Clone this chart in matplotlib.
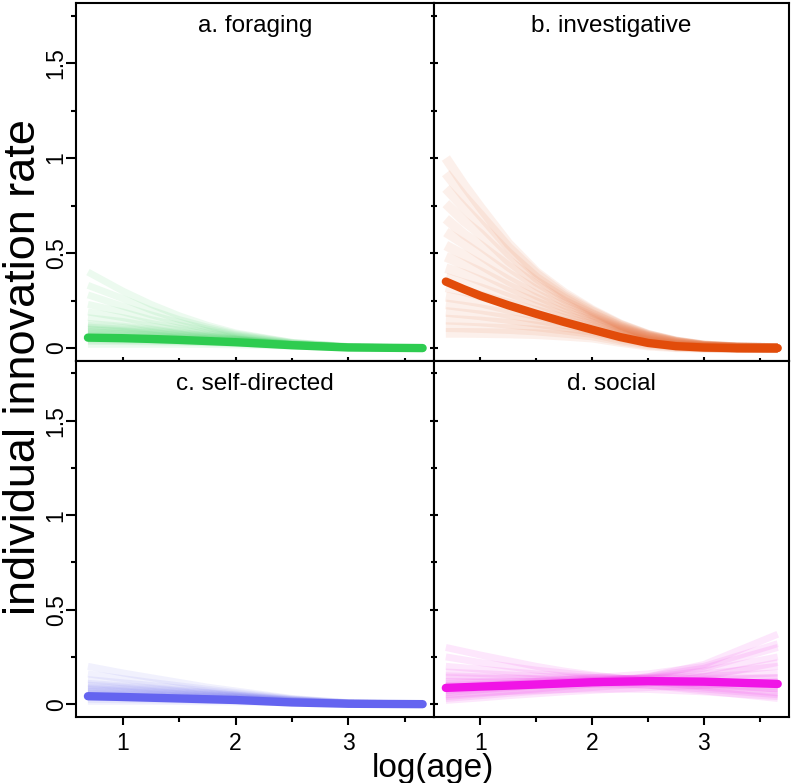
import matplotlib
matplotlib.use("Agg")
import matplotlib.pyplot as plt
from matplotlib.ticker import MultipleLocator

plt.rcParams['font.family'] = ['Liberation Sans', 'DejaVu Sans']

edad_log = [0.69, 1.0, 1.25, 1.5, 1.75, 2.0, 2.5, 3.0, 3.66]
edad_log_fino = [0.69, 0.85, 1.0, 1.25, 1.5, 1.75, 2.0, 2.25, 2.5, 2.75, 3.0, 3.3, 3.66]

titulos = ["a. foraging", "b. investigative", "c. self-directed", "d. social"]
colores = ["#2ecc50", "#e24c0a", "#6464f0", "#f014e6"]

# posterior mean curves
media_foraging = [0.055, 0.052, 0.048, 0.043, 0.037, 0.031, 0.015, 0.003, 0.0]
media_investig = [0.35, 0.31, 0.275, 0.225, 0.18, 0.137, 0.097, 0.058, 0.027,
                  0.01, 0.003, 0.0, 0.0]
media_selfdir = [0.042, 0.038, 0.034, 0.030, 0.026, 0.022, 0.009, 0.002, 0.0]
media_social = [0.086, 0.093, 0.098, 0.104, 0.110, 0.116, 0.122, 0.119, 0.107]

# posterior sample curves
muestras_foraging = [
    [0.40, 0.30, 0.23, 0.17, 0.12, 0.08, 0.030, 0.008, 0.0],
    [0.33, 0.26, 0.20, 0.15, 0.11, 0.075, 0.030, 0.008, 0.0],
    [0.28, 0.22, 0.175, 0.135, 0.10, 0.07, 0.028, 0.007, 0.0],
    [0.23, 0.19, 0.15, 0.12, 0.09, 0.065, 0.026, 0.007, 0.0],
    [0.19, 0.16, 0.13, 0.105, 0.08, 0.06, 0.025, 0.006, 0.0],
    [0.16, 0.14, 0.115, 0.095, 0.073, 0.055, 0.023, 0.006, 0.0],
    [0.13, 0.115, 0.10, 0.083, 0.066, 0.05, 0.021, 0.005, 0.0],
    [0.12, 0.107, 0.094, 0.078, 0.063, 0.048, 0.020, 0.005, 0.0],
    [0.11, 0.10, 0.088, 0.074, 0.06, 0.046, 0.020, 0.005, 0.0],
    [0.10, 0.092, 0.082, 0.07, 0.057, 0.044, 0.019, 0.005, 0.0],
    [0.095, 0.087, 0.077, 0.066, 0.054, 0.042, 0.019, 0.005, 0.0],
    [0.085, 0.079, 0.071, 0.061, 0.05, 0.04, 0.018, 0.004, 0.0],
    [0.08, 0.074, 0.067, 0.058, 0.048, 0.038, 0.017, 0.004, 0.0],
    [0.072, 0.067, 0.061, 0.054, 0.045, 0.036, 0.017, 0.004, 0.0],
    [0.065, 0.061, 0.056, 0.05, 0.042, 0.034, 0.016, 0.004, 0.0],
    [0.058, 0.055, 0.05, 0.045, 0.039, 0.032, 0.016, 0.004, 0.0],
    [0.05, 0.048, 0.045, 0.041, 0.036, 0.03, 0.015, 0.004, 0.0],
    [0.042, 0.04, 0.038, 0.035, 0.031, 0.027, 0.014, 0.003, 0.0],
    [0.035, 0.034, 0.033, 0.031, 0.028, 0.024, 0.013, 0.003, 0.0],
    [0.02, 0.02, 0.02, 0.02, 0.019, 0.017, 0.010, 0.003, 0.0],
]
muestras_investig = [
    [1.00, 0.86, 0.74, 0.55, 0.40, 0.29, 0.20, 0.125, 0.07, 0.035, 0.014, 0.004, 0.0],
    [0.92, 0.80, 0.70, 0.53, 0.39, 0.28, 0.195, 0.123, 0.07, 0.035, 0.014, 0.004, 0.0],
    [0.84, 0.74, 0.65, 0.50, 0.37, 0.27, 0.19, 0.12, 0.068, 0.034, 0.013, 0.004, 0.0],
    [0.76, 0.67, 0.60, 0.46, 0.35, 0.26, 0.18, 0.115, 0.066, 0.033, 0.013, 0.004, 0.0],
    [0.68, 0.60, 0.54, 0.43, 0.33, 0.245, 0.175, 0.112, 0.064, 0.032, 0.012, 0.003, 0.0],
    [0.61, 0.55, 0.49, 0.39, 0.305, 0.23, 0.165, 0.107, 0.062, 0.031, 0.012, 0.003, 0.0],
    [0.54, 0.49, 0.44, 0.355, 0.28, 0.215, 0.157, 0.103, 0.06, 0.03, 0.011, 0.003, 0.0],
    [0.48, 0.44, 0.40, 0.325, 0.26, 0.20, 0.148, 0.098, 0.057, 0.028, 0.01, 0.003, 0.0],
    [0.42, 0.39, 0.355, 0.295, 0.24, 0.185, 0.14, 0.093, 0.055, 0.027, 0.01, 0.003, 0.0],
    [0.37, 0.34, 0.315, 0.265, 0.215, 0.17, 0.13, 0.087, 0.05, 0.024, 0.009, 0.002, 0.0],
    [0.32, 0.30, 0.275, 0.235, 0.195, 0.155, 0.12, 0.08, 0.045, 0.021, 0.008, 0.002, 0.0],
    [0.27, 0.255, 0.24, 0.205, 0.172, 0.14, 0.11, 0.072, 0.04, 0.018, 0.007, 0.002, 0.0],
    [0.23, 0.218, 0.205, 0.18, 0.153, 0.127, 0.10, 0.065, 0.035, 0.015, 0.006, 0.001, 0.0],
    [0.19, 0.181, 0.172, 0.153, 0.133, 0.112, 0.09, 0.058, 0.03, 0.012, 0.005, 0.001, 0.0],
    [0.15, 0.145, 0.14, 0.128, 0.114, 0.097, 0.079, 0.048, 0.024, 0.009, 0.004, 0.001, 0.0],
    [0.11, 0.108, 0.105, 0.10, 0.092, 0.08, 0.066, 0.04, 0.018, 0.007, 0.003, 0.001, 0.0],
    [0.08, 0.08, 0.079, 0.077, 0.073, 0.065, 0.055, 0.032, 0.013, 0.004, 0.002, 0.0, 0.0],
]
muestras_selfdir = [
    [0.20, 0.165, 0.14, 0.115, 0.09, 0.07, 0.030, 0.008, 0.0],
    [0.16, 0.135, 0.115, 0.097, 0.079, 0.062, 0.028, 0.007, 0.0],
    [0.13, 0.113, 0.099, 0.085, 0.07, 0.056, 0.026, 0.007, 0.0],
    [0.11, 0.097, 0.086, 0.074, 0.062, 0.05, 0.024, 0.006, 0.0],
    [0.10, 0.09, 0.08, 0.07, 0.059, 0.048, 0.023, 0.006, 0.0],
    [0.09, 0.082, 0.074, 0.065, 0.055, 0.045, 0.021, 0.005, 0.0],
    [0.082, 0.075, 0.068, 0.06, 0.051, 0.042, 0.02, 0.005, 0.0],
    [0.075, 0.069, 0.063, 0.056, 0.048, 0.04, 0.019, 0.005, 0.0],
    [0.068, 0.063, 0.058, 0.052, 0.045, 0.037, 0.018, 0.004, 0.0],
    [0.06, 0.056, 0.052, 0.047, 0.041, 0.034, 0.017, 0.004, 0.0],
    [0.054, 0.051, 0.047, 0.043, 0.038, 0.032, 0.016, 0.004, 0.0],
    [0.048, 0.045, 0.042, 0.039, 0.034, 0.029, 0.015, 0.004, 0.0],
    [0.042, 0.04, 0.037, 0.034, 0.03, 0.026, 0.013, 0.003, 0.0],
    [0.036, 0.034, 0.032, 0.03, 0.027, 0.023, 0.012, 0.003, 0.0],
    [0.025, 0.024, 0.023, 0.022, 0.02, 0.018, 0.010, 0.003, 0.0],
    [0.015, 0.015, 0.015, 0.014, 0.013, 0.012, 0.007, 0.002, 0.0],
]
muestras_social = [
    [0.30, 0.26, 0.23, 0.20, 0.175, 0.155, 0.12, 0.09, 0.06],
    [0.25, 0.22, 0.20, 0.18, 0.165, 0.15, 0.125, 0.105, 0.08],
    [0.20, 0.185, 0.172, 0.16, 0.15, 0.142, 0.128, 0.118, 0.10],
    [0.17, 0.162, 0.155, 0.148, 0.142, 0.138, 0.135, 0.137, 0.14],
    [0.14, 0.137, 0.135, 0.133, 0.132, 0.132, 0.137, 0.147, 0.165],
    [0.12, 0.12, 0.12, 0.122, 0.124, 0.127, 0.138, 0.16, 0.20],
    [0.10, 0.104, 0.108, 0.112, 0.117, 0.123, 0.14, 0.175, 0.25],
    [0.07, 0.08, 0.09, 0.10, 0.11, 0.12, 0.145, 0.19, 0.30],
    [0.04, 0.055, 0.068, 0.08, 0.093, 0.107, 0.145, 0.21, 0.37],
    [0.03, 0.045, 0.057, 0.068, 0.078, 0.088, 0.11, 0.145, 0.22],
    [0.02, 0.033, 0.045, 0.055, 0.065, 0.073, 0.088, 0.10, 0.12],
    [0.06, 0.075, 0.085, 0.095, 0.10, 0.105, 0.10, 0.08, 0.05],
    [0.11, 0.115, 0.118, 0.12, 0.12, 0.118, 0.10, 0.07, 0.03],
    [0.15, 0.145, 0.14, 0.135, 0.13, 0.125, 0.115, 0.10, 0.08],
    [0.05, 0.06, 0.067, 0.073, 0.077, 0.08, 0.078, 0.065, 0.04],
    [0.08, 0.095, 0.108, 0.12, 0.13, 0.14, 0.16, 0.20, 0.32],
    [0.09, 0.095, 0.10, 0.104, 0.108, 0.112, 0.118, 0.12, 0.11],
    [0.075, 0.085, 0.095, 0.102, 0.108, 0.113, 0.12, 0.128, 0.14],
    [0.10, 0.102, 0.105, 0.108, 0.11, 0.113, 0.115, 0.11, 0.09],
]

medias = [media_foraging, media_investig, media_selfdir, media_social]
muestras = [muestras_foraging, muestras_investig, muestras_selfdir, muestras_social]
ejes_x = [edad_log, edad_log_fino, edad_log, edad_log]
alfas = [0.09, 0.08, 0.09, 0.10]
grosores = [5, 7, 5, 5]

fig = plt.figure(figsize=(7.96, 7.83), dpi=100)

# panel edges in figure fraction (2x2, no gaps)
x0, xm, x1 = 76 / 796, 434 / 796, 789 / 796
y0, ym, y1 = 1 - 717 / 783, 1 - 361 / 783, 1 - 3 / 783
posiciones = [
    [x0, ym, xm - x0, y1 - ym],
    [xm, ym, x1 - xm, y1 - ym],
    [x0, y0, xm - x0, ym - y0],
    [xm, y0, x1 - xm, ym - y0],
]

for i in range(4):
    ax = fig.add_axes(posiciones[i])
    for curva in muestras[i]:
        ax.plot(ejes_x[i], curva, color=colores[i], alpha=alfas[i],
                lw=grosores[i], solid_capstyle='butt')
    ax.plot(ejes_x[i], medias[i], color=colores[i], lw=6,
            solid_capstyle='round')

    ax.set_xlim(0.584, 3.761)
    ax.set_ylim(-0.068, 1.816)
    ax.xaxis.set_major_locator(MultipleLocator(1))
    ax.xaxis.set_minor_locator(MultipleLocator(0.5))
    ax.yaxis.set_minor_locator(MultipleLocator(0.25))
    ax.set_yticks([0, 0.5, 1, 1.5])
    ax.set_yticklabels(["0", "0.5", "1", "1.5"])
    for s in ax.spines.values():
        s.set_linewidth(1.5)

    izquierda = i in (0, 2)
    abajo = i in (2, 3)
    ax.tick_params(axis='y', which='both', left=True, right=False,
                   labelleft=izquierda, direction='out' if izquierda else 'inout',
                   width=1.5, labelsize=16.5, labelrotation=90, pad=-1)
    ax.tick_params(axis='y', which='major', length=7 if izquierda else 6)
    ax.tick_params(axis='y', which='minor', length=3.6 if izquierda else 5)
    ax.tick_params(axis='x', which='both', bottom=True, top=False,
                   labelbottom=abajo, direction='out' if abajo else 'inout',
                   width=1.5, labelsize=16.5, pad=4.5)
    ax.tick_params(axis='x', which='major', length=6)
    ax.tick_params(axis='x', which='minor', length=3.6 if abajo else 5)
    for lab in ax.get_yticklabels():
        lab.set_va('center')

    ax.text(0.5, 1 - 29 / 357, titulos[i], transform=ax.transAxes,
            ha='center', va='baseline', fontsize=17.5)

fig.text((x0 + x1) / 2, 15 / 783, "log(age)", ha='center', va='center',
         fontsize=24)
fig.text(35 / 796, 1 - 367 / 783, "individual innovation rate", ha='center',
         va='baseline', rotation=90, rotation_mode='anchor', fontsize=32.5)

fig.savefig("out.png", dpi=100)
plt.close(fig)
